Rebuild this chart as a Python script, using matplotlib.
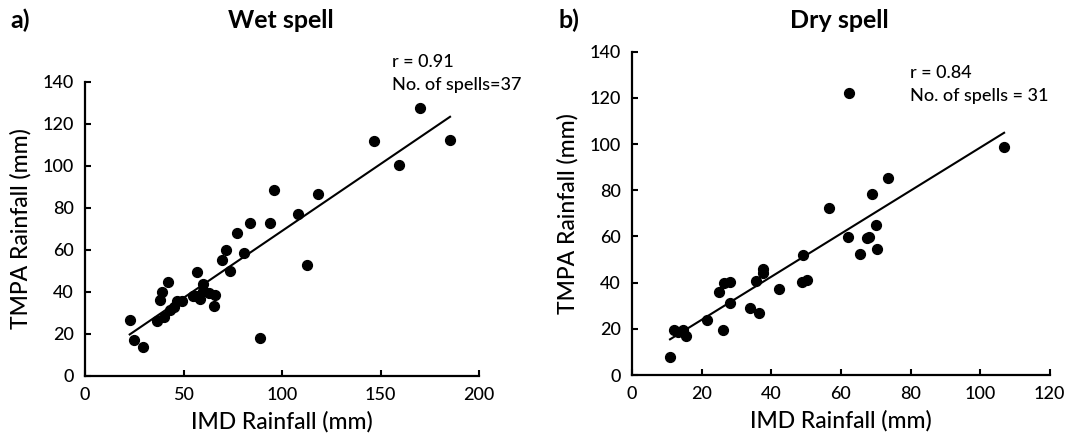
import numpy as np
import matplotlib
matplotlib.use("Agg")
import matplotlib.pyplot as plt

plt.rcParams['font.family'] = ['Lato', 'DejaVu Sans']

# Wet spell data (IMD vs TMPA, mm)
wet_imd = [22.7, 25.1, 29.2, 36.3, 40.0, 38.3, 39.2, 42.2, 43.4, 45.1, 46.8, 49.3,
           57.0, 56.1, 58.3, 60.0, 60.0, 62.9, 65.9, 65.4, 69.7, 71.5, 73.4, 77.3,
           83.7, 80.7, 88.6, 93.7, 95.9, 108.1, 112.9, 118.3, 146.8, 159.5, 170.2,
           185.3, 55.0]
wet_tmpa = [26.7, 16.8, 13.6, 26.2, 27.8, 35.9, 40.0, 44.4, 31.2, 32.5, 35.6, 35.6,
            49.4, 38.0, 36.4, 43.8, 40.3, 39.5, 38.4, 33.1, 55.2, 59.6, 49.7, 67.8,
            72.8, 58.4, 17.9, 72.8, 88.2, 77.0, 52.5, 86.3, 111.7, 100.4, 127.2,
            112.2, 38.0]

# Dry spell data
dry_imd = [10.9, 11.9, 13.3, 14.5, 15.5, 21.6, 25.0, 26.4, 28.1, 26.2, 28.1, 33.9,
           35.6, 36.6, 37.5, 37.7, 42.3, 48.7, 50.2, 49.0, 56.7, 62.4, 62.1, 65.5,
           67.4, 68.2, 69.0, 70.1, 70.5, 73.4, 106.9]
dry_tmpa = [7.6, 19.5, 18.8, 19.5, 16.9, 23.8, 36.1, 39.7, 40.1, 19.5, 31.0, 28.9,
            40.8, 26.7, 45.9, 44.0, 37.1, 40.1, 41.1, 51.9, 72.2, 122.2, 59.9, 52.2,
            59.2, 59.9, 78.4, 64.9, 54.4, 85.1, 98.6]

wet_ticks_x = [0, 50, 100, 150, 200]
dry_ticks_x = [0, 20, 40, 60, 80, 100, 120]
ticks_y = [0, 20, 40, 60, 80, 100, 120, 140]

W, H = 1069, 441
fig = plt.figure(figsize=(W / 100, H / 100), dpi=100)
ax1 = fig.add_axes([85 / W, 1 - 375.7 / H, (479 - 85) / W, (375.7 - 81.5) / H])
ax2 = fig.add_axes([632.1 / W, 1 - 375 / H, (1049.7 - 632.1) / W, (375 - 51.7) / H])

def style(ax, xt, xmax):
    ax.set_xlim(0, xmax)
    ax.set_ylim(0, 140)
    ax.set_xticks(xt)
    ax.set_yticks(ticks_y)
    for s in ['top', 'right']:
        ax.spines[s].set_visible(False)
    for s in ['left', 'bottom']:
        ax.spines[s].set_linewidth(1.6)
    ax.tick_params(direction='in', length=4, width=1.5, pad=8)
    for lab in ax.get_xticklabels() + ax.get_yticklabels():
        lab.set_fontsize(13)
        lab.set_fontweight('medium')
    ax.set_xlabel('IMD Rainfall (mm)', labelpad=6, fontsize=16.5, fontweight='medium')
    ax.set_ylabel('TMPA Rainfall (mm)', labelpad=8, fontsize=16.5, fontweight='medium')

for ax, x, y in [(ax1, wet_imd, wet_tmpa), (ax2, dry_imd, dry_tmpa)]:
    ax.scatter(x, y, s=50, color='black', zorder=3, clip_on=False)
    m, c = np.polyfit(x, y, 1)
    xs = np.array([min(x), max(x)])
    ax.plot(xs, m * xs + c, color='black', lw=1.5)

style(ax1, wet_ticks_x, 200)
style(ax2, dry_ticks_x, 120)

tb = 1 - 28.5 / H
fig.text(281 / W, tb, 'Wet spell', ha='center', va='baseline', fontsize=18, fontweight='bold')
fig.text(10 / W, tb, 'a)', ha='left', va='baseline', fontsize=18, fontweight='bold')
fig.text(839 / W, tb, 'Dry spell', ha='center', va='baseline', fontsize=18, fontweight='bold')
fig.text(558 / W, tb, 'b)', ha='left', va='baseline', fontsize=18, fontweight='bold')

fig.text(392 / W, 1 - 62 / H, 'r = 0.91', ha='left', va='center', fontsize=13, fontweight='medium')
fig.text(392 / W, 1 - 85 / H, 'No. of spells=37', ha='left', va='center', fontsize=13, fontweight='medium')
fig.text(910 / W, 1 - 73.5 / H, 'r = 0.84', ha='left', va='center', fontsize=13, fontweight='medium')
fig.text(910 / W, 1 - 96 / H, 'No. of spells = 31', ha='left', va='center', fontsize=13, fontweight='medium')

fig.savefig('out.png', dpi=100)
